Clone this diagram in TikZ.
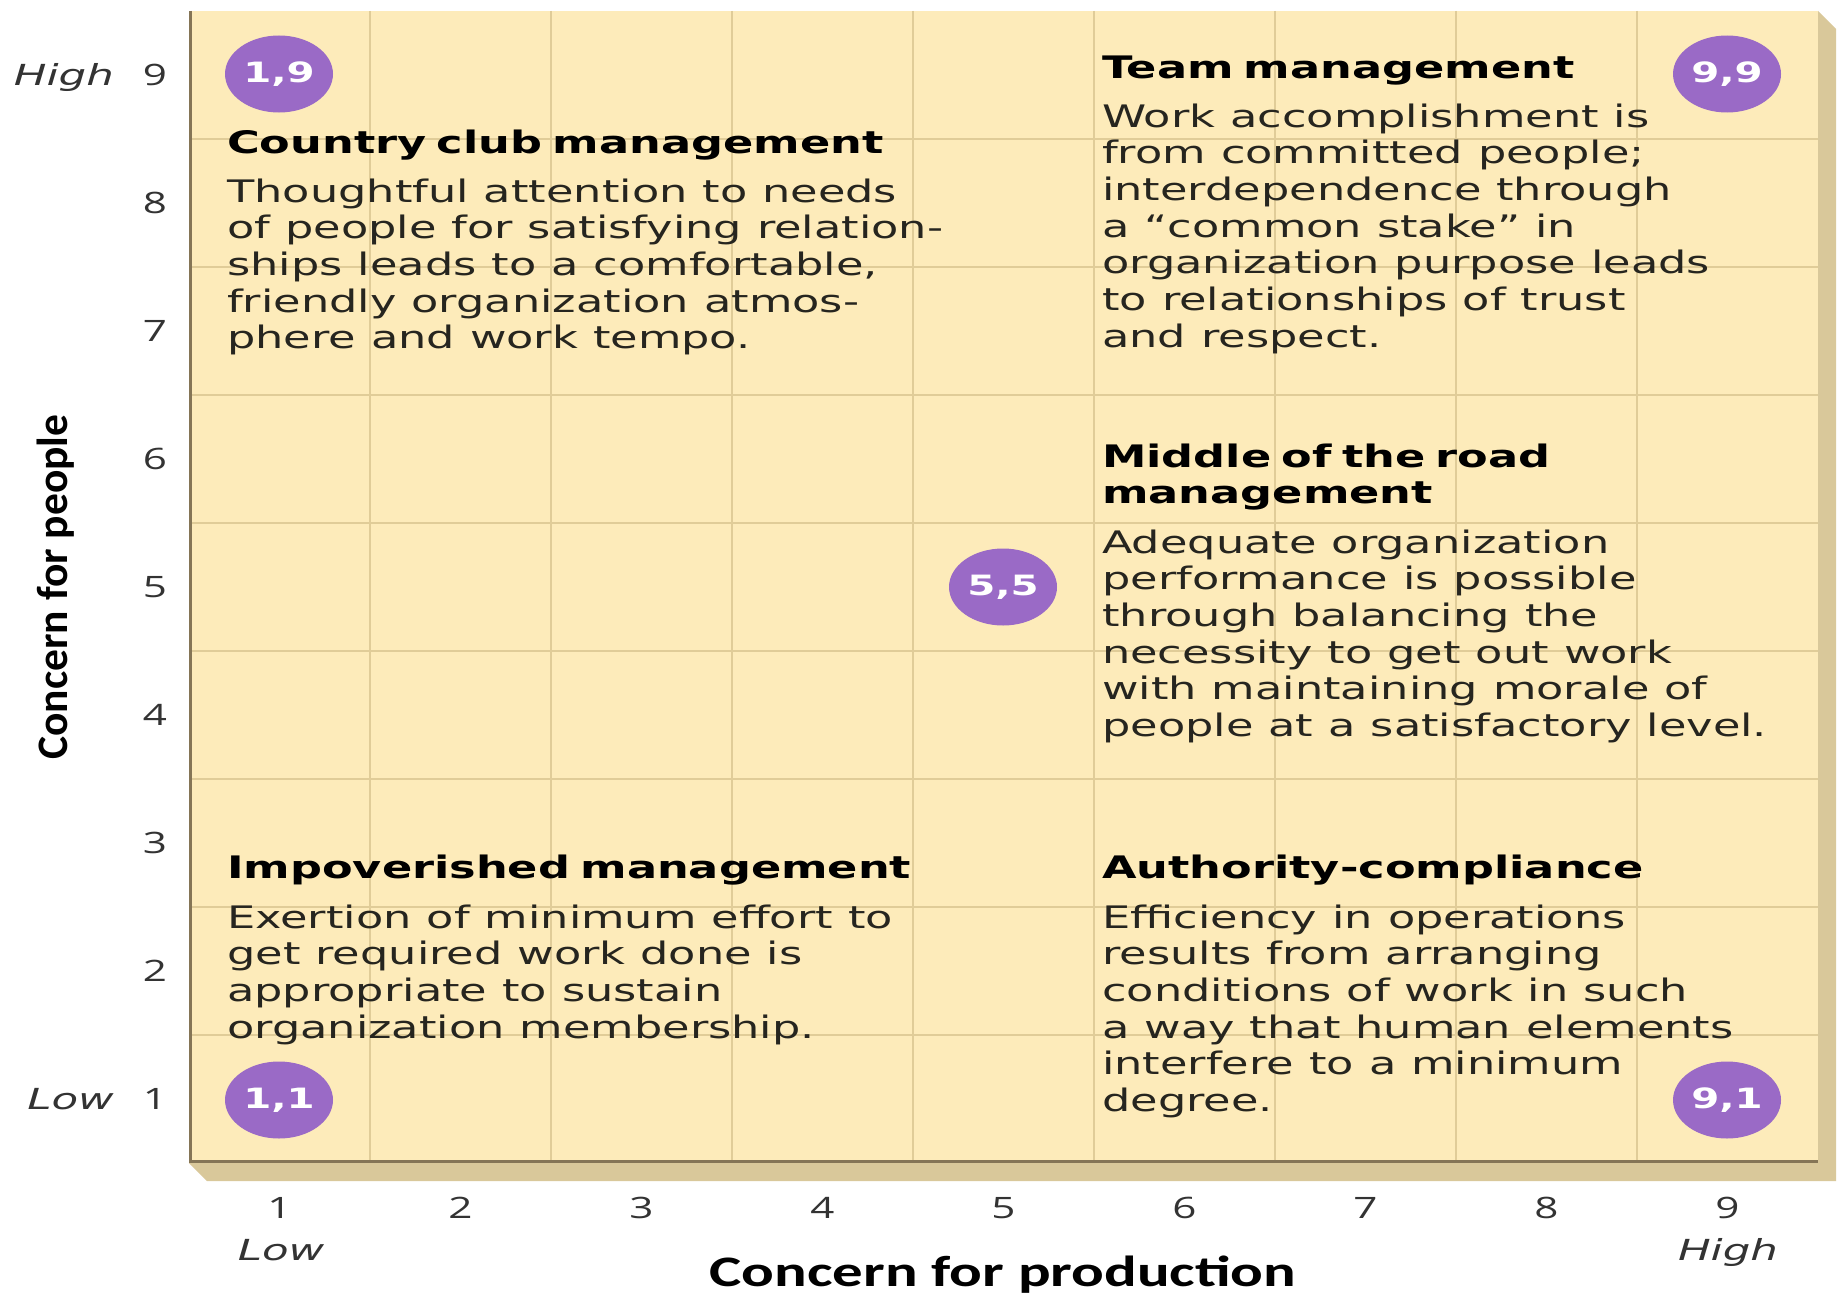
\documentclass[tikz,border=0pt]{standalone}
\usepackage{fontspec}
\usetikzlibrary{shapes.geometric}

% Fonts: the whole chart is set horizontally stretched
\newfontfamily\bodyfont{DejaVu Sans}[FakeStretch=1.44]
\newfontfamily\headfont{DejaVu Sans}[FakeStretch=1.44]
\newfontfamily\axisfont{Open Sans}[FakeStretch=1.43]
\newfontfamily\axisitfont{DejaVu Sans}[FakeStretch=1.5]
\newfontfamily\labelfont{Carlito}
\newfontfamily\labelwidefont{Carlito}[FakeStretch=1.4]

\definecolor{panelc}{HTML}{FDEBBA}
\definecolor{gridc}{HTML}{E0CC98}
\definecolor{shadowc}{HTML}{D9C89A}
\definecolor{edgec}{HTML}{857556}
\definecolor{badgec}{HTML}{9A6AC6}
\definecolor{inkc}{HTML}{26251F}
\definecolor{axisc}{HTML}{333333}

\tikzset{
  gridline/.style={draw=gridc, line width=2pt},
  edgeline/.style={draw=edgec, line width=3pt},
  blocktitle/.style={anchor=base west, inner sep=0pt, text width=760pt, align=left,
    font=\headfont\bfseries\fontsize{31}{36}\selectfont, text=black},
  blockbody/.style={anchor=base west, inner sep=0pt, text width=760pt, align=left,
    font=\bodyfont\fontsize{31}{36.7}\selectfont, text=inkc,
    execute at begin node={\spaceskip=15pt\relax}},
  badge/.style={ellipse, fill=badgec, minimum width=108pt, minimum height=77pt,
    inner sep=0pt, text=white, font=\headfont\bfseries\fontsize{28}{28}\selectfont},
  tick/.style={anchor=base, inner sep=0pt, text=axisc,
    font=\axisfont\fontsize{29.5}{29.5}\selectfont},
  level/.style={inner sep=0pt, text=axisc,
    font=\axisitfont\itshape\fontsize{29}{29}\selectfont},
  axistitle/.style={inner sep=0pt, text=black,
    font=\labelfont\bfseries\fontsize{43.5}{43.5}\selectfont},
}

\begin{document}
\begin{tikzpicture}[x=1pt, y=-1pt]
  \useasboundingbox (0,0) rectangle (1843,1298);
  \fill[white] (0,0) rectangle (1843,1298);

  % raised panel: extruded edge, face, grid and axes
  \fill[shadowc] (1818,11) -- (1836,29) -- (1836,1181) -- (207,1181)
                 -- (189,1163) -- (1818,1163) -- cycle;
  \fill[panelc] (189,11) rectangle (1818,1163);
  \foreach \i in {1,...,8}
    \draw[gridline] ({189+181*\i},11) -- ({189+181*\i},1163);
  \foreach \j in {1,...,8}
    \draw[gridline] (189,{11+128*\j}) -- (1818,{11+128*\j});
  \draw[edgeline] (190.5,11) -- (190.5,1161.5) -- (1818,1161.5);

  % vertical scale
  \foreach \n in {1,...,9}
    \node[tick] (y\n) at (155,{75+128*(9-\n)+10}) {\n};
  \node[level, anchor=base east] (yhigh) at (114,85) {High};
  \node[level, anchor=base east] (ylow) at (114,1109) {Low};
  \node[axistitle, rotate=90] (ytitle) at (56,587) {Concern for people};

  % horizontal scale
  \foreach \n in {1,...,9}
    \node[tick] (x\n) at ({189+181*(\n-0.5)},1218) {\n};
  \node[level, anchor=base] (xlow) at (281,1260) {Low};
  \node[level, anchor=base] (xhigh) at (1728,1260) {High};
  \node[axistitle, anchor=base, font=\labelwidefont\bfseries\fontsize{43.5}{43.5}\selectfont]
    (xtitle) at (1003,1286) {Concern for production};

  % grid positions
  \node[badge] (b19) at (279,74) {1,9};
  \node[badge] (b99) at (1727,74) {9,9};
  \node[badge] (b55) at (1003,587) {5,5};
  \node[badge] (b11) at (279,1100) {1,1};
  \node[badge] (b91) at (1727,1100) {9,1};

  % style descriptions
  \node[blocktitle] (cct) at (227,153) {Country club management};
  \node[blockbody] (ccb) at (227,202) {Thoughtful attention to needs\\
    of people for satisfying relation-\\
    ships leads to a comfortable,\\
    friendly organization atmos-\\
    phere and work tempo.};

  \node[blocktitle] (tmt) at (1102,78) {Team management};
  \node[blockbody] (tmb) at (1102,127) {Work accomplishment is\\
    from committed people;\\
    interdependence through\\
    a “common stake” in\\
    organization purpose leads\\
    to relationships of trust\\
    and respect.};

  \node[blocktitle] (mrt) at (1102,467) {Middle of the road\\management};
  \node[blockbody] (mrb) at (1102,553) {Adequate organization\\
    performance is possible\\
    through balancing the\\
    necessity to get out work\\
    with maintaining morale of\\
    people at a satisfactory level.};

  \node[blocktitle] (imt) at (227,878) {Impoverished management};
  \node[blockbody] (imb) at (227,928) {Exertion of minimum effort to\\
    get required work done is\\
    appropriate to sustain\\
    organization membership.};

  \node[blocktitle] (act) at (1102,878) {Authority-compliance};
  \node[blockbody] (acb) at (1102,928) {Efficiency in operations\\
    results from arranging\\
    conditions of work in such\\
    a way that human elements\\
    interfere to a minimum\\
    degree.};
\end{tikzpicture}
\end{document}
